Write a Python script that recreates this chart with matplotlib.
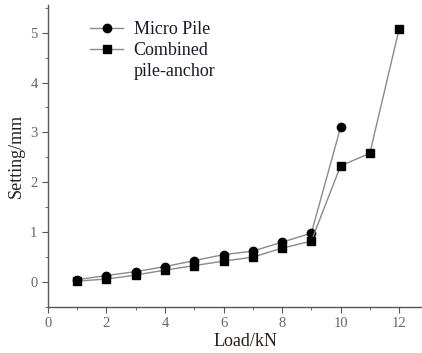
import numpy as np
import matplotlib
matplotlib.use("Agg")
import matplotlib.pyplot as plt
from matplotlib.ticker import MultipleLocator

# data
load_micro = [1, 2, 3, 4, 5, 6, 7, 8, 9, 10]
settle_micro = [0.05, 0.13, 0.21, 0.31, 0.43, 0.55, 0.62, 0.80, 0.98, 3.10]
load_comb = [1, 2, 3, 4, 5, 6, 7, 8, 9, 10, 11, 12]
settle_comb = [0.02, 0.06, 0.14, 0.24, 0.33, 0.42, 0.50, 0.68, 0.82, 2.33, 2.58, 5.07]

plt.rcParams['font.family'] = ['Liberation Serif', 'DejaVu Serif']

fig = plt.figure(figsize=(4.22, 3.53), dpi=100)
ax = fig.add_axes([0.1137, 0.1303, 0.884, 0.855])

ax.plot(load_micro, settle_micro, color='#8a8a8a', lw=1.0, marker='o',
        ms=6, mfc='black', mec='black', label='Micro Pile')
ax.plot(load_comb, settle_comb, color='#8a8a8a', lw=1.0, marker='s',
        ms=5.5, mfc='black', mec='black', label='Combined')
# second line of the legend label, kept under the handle like the original
ax.plot([], [], ' ', label='pile-anchor')

ax.set_xlim(0, 12.75)
ax.set_ylim(-0.5, 5.55)
ax.xaxis.set_major_locator(MultipleLocator(2))
ax.xaxis.set_minor_locator(MultipleLocator(1))
ax.yaxis.set_major_locator(MultipleLocator(1))
ax.yaxis.set_minor_locator(MultipleLocator(0.5))

for s in ['top', 'right']:
    ax.spines[s].set_visible(False)
for s in ['left', 'bottom']:
    ax.spines[s].set_color('#555555')
    ax.spines[s].set_linewidth(1.0)

ax.tick_params(which='major', direction='out', length=4, color='#555555',
               labelsize=10.5, labelcolor='#666666')
ax.tick_params(which='minor', direction='out', length=2.5, color='#555555')

ax.set_xlabel('Load/kN', fontsize=13, color='#2a2018', labelpad=2)
ax.xaxis.set_label_coords(0.53, -0.085)
ax.set_ylabel('Setting/mm', fontsize=13, color='#2a2018', labelpad=4)

leg = ax.legend(loc='upper left', bbox_to_anchor=(0.07, 1.0), frameon=False,
                fontsize=13, handlelength=1.8, labelspacing=0.2,
                handletextpad=0.6)
for t in leg.get_texts():
    t.set_color('#1a1a2a')

fig.savefig('out.png', dpi=100)
